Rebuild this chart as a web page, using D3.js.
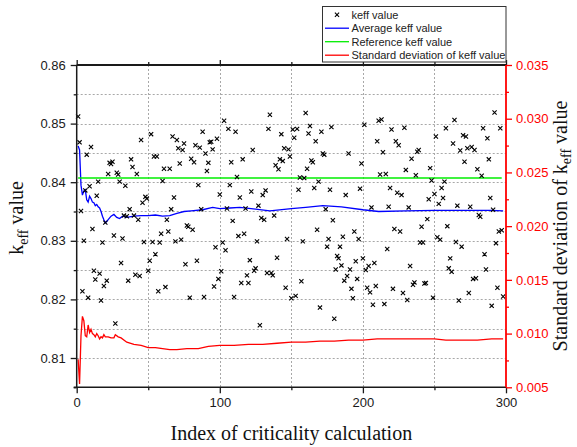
<!DOCTYPE html>
<html>
<head>
<meta charset="utf-8">
<script src="https://cdn.jsdelivr.net/npm/d3@7/dist/d3.min.js"></script>
<style>
  html, body { margin: 0; padding: 0; background: #fff; }
  svg { display: block; }
  .tick text { font-family: "Liberation Sans", Arial, sans-serif; }
</style>
</head>
<body>
<svg id="chart" width="577" height="447"></svg>
<script>
// keff value of each criticality calculation (index 1, 2, 3, ...)
const keffValues = [
  0.8512, 0.8468, 0.8351, 0.8214, 0.8300, 0.8386, 0.8447, 0.8203, 0.8393, 0.8460,
  0.8320, 0.8249, 0.8234, 0.8377, 0.8401, 0.8244, 0.8198, 0.8297, 0.8223, 0.8331,
  0.8232, 0.8414, 0.8433, 0.8431, 0.8435, 0.8309, 0.8159, 0.8416, 0.8413, 0.8401,
  0.8262, 0.8304, 0.8343, 0.8394, 0.8342, 0.8232, 0.8354, 0.8439, 0.8426, 0.8343,
  0.8242, 0.8414, 0.8336, 0.8240, 0.8472, 0.8365, 0.8298, 0.8375, 0.8372, 0.8249,
  0.8266, 0.8482, 0.8298, 0.8444, 0.8277, 0.8444, 0.8214, 0.8297, 0.8312, 0.8402,
  0.8423, 0.8221, 0.8336, 0.8316, 0.8423, 0.8354, 0.8478, 0.8374, 0.8299, 0.8472,
  0.8458, 0.8432, 0.8302, 0.8455, 0.8466, 0.8260, 0.8326, 0.8324, 0.8203, 0.8440,
  0.8319, 0.8434, 0.8463, 0.8266, 0.8395, 0.8459, 0.8354, 0.8486, 0.8204, 0.8449,
  0.8419, 0.8433, 0.8468, 0.8469, 0.8456, 0.8222, 0.8289, 0.8474, 0.8235, 0.8379,
  0.8248, 0.8297, 0.8505, 0.8284, 0.8355, 0.8491, 0.8395, 0.8434, 0.8334, 0.8204,
  0.8486, 0.8409, 0.8308, 0.8374, 0.8228, 0.8439, 0.8312, 0.8355, 0.8241, 0.8228,
  0.8267, 0.8384, 0.8455, 0.8249, 0.8253, 0.8299, 0.8360, 0.8156, 0.8339, 0.8378,
  0.8336, 0.8386, 0.8245, 0.8491, 0.8515, 0.8245, 0.8241, 0.8343, 0.8429, 0.8271,
  0.8422, 0.8439, 0.8482, 0.8436, 0.8458, 0.8220, 0.8303, 0.8456, 0.8444, 0.8202,
  0.8490, 0.8476, 0.8206, 0.8491, 0.8387, 0.8408, 0.8231, 0.8299, 0.8407, 0.8518,
  0.8423, 0.8483, 0.8496, 0.8437, 0.8434, 0.8390, 0.8470, 0.8319, 0.8401, 0.8186,
  0.8486, 0.8449, 0.8447, 0.8354, 0.8290, 0.8303, 0.8387, 0.8494, 0.8335, 0.8167,
  0.8251, 0.8274, 0.8270, 0.8290, 0.8258, 0.8307, 0.8232, 0.8378, 0.8240, 0.8449,
  0.8251, 0.8218, 0.8202, 0.8316, 0.8265, 0.8235, 0.8303, 0.8389, 0.8432, 0.8270,
  0.8498, 0.8250, 0.8220, 0.8257, 0.8212, 0.8357, 0.8191, 0.8262, 0.8223, 0.8470,
  0.8505, 0.8413, 0.8507, 0.8451, 0.8192, 0.8414, 0.8286, 0.8358, 0.8390, 0.8490,
  0.8218, 0.8320, 0.8470, 0.8382, 0.8463, 0.8316, 0.8378, 0.8211, 0.8493, 0.8421,
  0.8199, 0.8357, 0.8257, 0.8440, 0.8225, 0.8229, 0.8412, 0.8452, 0.8455, 0.8297,
  0.8324, 0.8297, 0.8227, 0.8228, 0.8337, 0.8371, 0.8424, 0.8403, 0.8203, 0.8380,
  0.8478, 0.8306, 0.8363, 0.8302, 0.8390, 0.8373, 0.8401, 0.8492, 0.8325, 0.8253,
  0.8270, 0.8247, 0.8466, 0.8506, 0.8298, 0.8360, 0.8198, 0.8454, 0.8290, 0.8480,
  0.8435, 0.8478, 0.8458, 0.8211, 0.8358, 0.8460, 0.8235, 0.8455, 0.8236, 0.8422,
  0.8344, 0.8341, 0.8411, 0.8492, 0.8277, 0.8251, 0.8475, 0.8439, 0.8373, 0.8189,
  0.8353, 0.8519, 0.8296, 0.8220, 0.8316, 0.8492, 0.8318, 0.8205
];

// running average of keff
const avgIndex = [1, 2, 3, 4, 5, 6, 7, 8, 9, 10, 11, 12, 13, 14, 15, 16, 17, 18, 19, 20,
  21, 22, 24, 26, 28, 30, 32, 35, 40, 45, 50, 55, 60, 65, 70, 75, 80, 88, 95, 100,
  107, 114, 125, 135, 150, 160, 172, 185, 200, 211, 230, 250, 270, 290, 298];
const avgValue = [0.8462, 0.8455, 0.8395, 0.8378, 0.8385, 0.8387, 0.8370, 0.8366, 0.8376, 0.8372,
  0.8366, 0.8365, 0.8360, 0.8362, 0.8358, 0.8356, 0.8350, 0.8342, 0.8336, 0.8331,
  0.8333, 0.8336, 0.8342, 0.8345, 0.8340, 0.8338, 0.8342, 0.8340, 0.8342, 0.8343,
  0.8343, 0.8344, 0.8342, 0.8343, 0.8347, 0.8350, 0.8351, 0.8353, 0.8357, 0.8355,
  0.8356, 0.8357, 0.8354, 0.8351, 0.8355, 0.8357, 0.8360, 0.8358, 0.8353, 0.8350,
  0.8351, 0.8352, 0.8352, 0.8352, 0.8351];

// reference keff
const referenceKeff = 0.8407;

// running standard deviation of keff (right axis)
const stdIndex = [1, 2, 3, 4, 5, 6, 7, 8, 9, 10, 11, 12, 13, 14, 15, 16, 17, 18, 19, 20,
  22, 24, 26, 27, 29, 31, 35, 40, 45, 50, 55, 60, 65, 70, 77, 85, 92, 100, 110, 120,
  130, 140, 150, 160, 170, 180, 190, 200, 210, 220, 230, 240, 250, 258, 270, 280, 290, 298];
const stdValue = [0.0076, 0.0053, 0.0098, 0.0116, 0.0112, 0.0098, 0.0097, 0.0108, 0.0101, 0.0104,
  0.0100, 0.0099, 0.0097, 0.0100, 0.0098, 0.0095, 0.0097, 0.0096, 0.0099, 0.0097,
  0.0097, 0.0096, 0.0096, 0.0099, 0.0097, 0.0096, 0.0092, 0.0090, 0.0089, 0.0087,
  0.0087, 0.0086, 0.0085, 0.0085, 0.0086, 0.0086, 0.0088, 0.0089, 0.0089, 0.0090,
  0.0090, 0.0091, 0.0092, 0.0092, 0.0093, 0.0093, 0.0094, 0.0094, 0.0095, 0.0095,
  0.0095, 0.0095, 0.0095, 0.0094, 0.0094, 0.0094, 0.0095, 0.0095];

// axis ticks
const xTicks = [0, 100, 200, 300];
const xMinorTicks = [50, 150, 250];
const yLeftTicks = [0.81, 0.82, 0.83, 0.84, 0.85, 0.86];
const yLeftMinorTicks = [0.805, 0.815, 0.825, 0.835, 0.845, 0.855];
const yRightTicks = [0.005, 0.010, 0.015, 0.020, 0.025, 0.030, 0.035];
const yRightMinorTicks = [0.0075, 0.0125, 0.0175, 0.0225, 0.0275, 0.0325];

const legendLabels = ["keff value", "Average keff value", "Reference keff value", "Standard deviation of keff value"];
const colors = { point: "#000", avg: "#0000ff", ref: "#00ee00", std: "#ff0000" };

const svg = d3.select("#chart");
const L = 76.7, R = 506, T = 65, B = 387.3;

const x = d3.scaleLinear().domain([0, 300]).range([L, R]);
const yL = d3.scaleLinear().domain([0.805, 0.86]).range([B, T]);
const yR = d3.scaleLinear().domain([0.005, 0.035]).range([B, T]);

// dotted grid
const grid = svg.append("g").attr("stroke", "#a8a8a8").attr("stroke-width", 1).attr("stroke-dasharray", "2,2");
d3.range(0.81, 0.8575, 0.005).forEach(v => {
  grid.append("line").attr("x1", L).attr("x2", R).attr("y1", Math.round(yL(v)) + 0.5).attr("y2", Math.round(yL(v)) + 0.5);
});
[50, 100, 150, 200, 250].forEach(v => {
  grid.append("line").attr("y1", T).attr("y2", B).attr("x1", Math.round(x(v)) + 0.5).attr("x2", Math.round(x(v)) + 0.5);
});

// lines
const avgLine = d3.line().x((d, i) => x(avgIndex[i])).y(d => yL(d));
svg.append("path").attr("d", avgLine(avgValue)).attr("fill", "none").attr("stroke", colors.avg).attr("stroke-width", 1.3);

svg.append("line").attr("x1", x(1)).attr("x2", x(keffValues.length - 1))
  .attr("y1", yL(referenceKeff)).attr("y2", yL(referenceKeff))
  .attr("stroke", colors.ref).attr("stroke-width", 1.5);

const stdLine = d3.line().x((d, i) => x(stdIndex[i])).y(d => yR(d));
svg.append("path").attr("d", stdLine(stdValue)).attr("fill", "none").attr("stroke", colors.std).attr("stroke-width", 1.3);

// × markers
const cross = s => `M${-s},${-s}L${s},${s}M${-s},${s}L${s},${-s}`;
svg.append("g").selectAll("path").data(keffValues).join("path")
  .attr("transform", (d, i) => `translate(${x(i + 1)},${yL(d)})`)
  .attr("d", cross(2.1))
  .attr("stroke", colors.point).attr("stroke-width", 1.1).attr("fill", "none");

// axes
function styleAxis(g, color) {
  g.selectAll(".domain").remove();
  g.selectAll(".tick line").attr("stroke", color).attr("stroke-width", 1.3);
  g.selectAll(".tick text").attr("fill", color).attr("font-size", 13);
}

const fmt2 = d3.format(".2f"), fmt3 = d3.format(".3f");

const gLeft = svg.append("g").attr("transform", `translate(${L},0)`)
  .call(d3.axisLeft(yL).tickValues(yLeftTicks).tickFormat(fmt2).tickSize(6).tickPadding(5));
styleAxis(gLeft, "#1a1a1a");
const gLeftMinor = svg.append("g").attr("transform", `translate(${L},0)`)
  .call(d3.axisLeft(yL).tickValues(yLeftMinorTicks).tickFormat("").tickSize(3));
styleAxis(gLeftMinor, "#1a1a1a");

const gBottom = svg.append("g").attr("transform", `translate(0,${B})`)
  .call(d3.axisBottom(x).tickValues(xTicks).tickFormat(d3.format("d")).tickSize(6).tickPadding(4));
styleAxis(gBottom, "#1a1a1a");
const gBottomMinor = svg.append("g").attr("transform", `translate(0,${B})`)
  .call(d3.axisBottom(x).tickValues(xMinorTicks).tickFormat("").tickSize(3));
styleAxis(gBottomMinor, "#1a1a1a");

const gTop = svg.append("g").attr("transform", `translate(0,${T})`)
  .call(d3.axisTop(x).tickValues(xTicks).tickFormat("").tickSize(5));
styleAxis(gTop, "#1a1a1a");
const gTopMinor = svg.append("g").attr("transform", `translate(0,${T})`)
  .call(d3.axisTop(x).tickValues(xMinorTicks).tickFormat("").tickSize(3));
styleAxis(gTopMinor, "#1a1a1a");

const gRight = svg.append("g").attr("transform", `translate(${R},0)`)
  .call(d3.axisRight(yR).tickValues(yRightTicks).tickFormat(fmt3).tickSize(6).tickPadding(4));
styleAxis(gRight, "#ff0000");
const gRightMinor = svg.append("g").attr("transform", `translate(${R},0)`)
  .call(d3.axisRight(yR).tickValues(yRightMinorTicks).tickFormat("").tickSize(3));
styleAxis(gRightMinor, "#ff0000");

// frame
svg.append("line").attr("x1", L).attr("x2", R).attr("y1", T).attr("y2", T).attr("stroke", "#1a1a1a").attr("stroke-width", 1.8);
svg.append("line").attr("x1", L - 3).attr("x2", R).attr("y1", B).attr("y2", B).attr("stroke", "#1a1a1a").attr("stroke-width", 1.5);
svg.append("line").attr("x1", L).attr("x2", L).attr("y1", T).attr("y2", B).attr("stroke", "#1a1a1a").attr("stroke-width", 1.5);
svg.append("line").attr("x1", R).attr("x2", R).attr("y1", T).attr("y2", B).attr("stroke", "#ff0000").attr("stroke-width", 1.8);

// axis titles
const serif = "'Liberation Serif', 'Times New Roman', serif";
svg.append("text").attr("x", (L + R) / 2).attr("y", 440).attr("text-anchor", "middle")
  .attr("font-family", serif).attr("font-size", 20).attr("fill", "#111")
  .text("Index of criticality calculation");

function keffTitle(sel, pre, sub) {
  sel.append("tspan").text(pre + "k");
  sel.append("tspan").attr("font-size", 14).attr("dy", sub).text("eff");
  sel.append("tspan").attr("dy", -sub).text(" value");
}
const tl = svg.append("text").attr("transform", "translate(23,218) rotate(-90)").attr("text-anchor", "middle")
  .attr("font-family", serif).attr("font-size", 20).attr("fill", "#111");
keffTitle(tl, "", 5);
const tr = svg.append("text").attr("transform", "translate(567,226) rotate(-90)").attr("text-anchor", "middle")
  .attr("font-family", serif).attr("font-size", 20).attr("fill", "#111");
keffTitle(tr, "Standard deviation of ", 4);

// legend
const lg = svg.append("g");
lg.append("rect").attr("x", 322.5).attr("y", 6.5).attr("width", 183.5).attr("height", 55.5)
  .attr("fill", "#fff").attr("stroke", "#333").attr("stroke-width", 1);
const rowY = [14.7, 28.2, 41.7, 55.2];
legendLabels.forEach((lab, i) => {
  const yy = rowY[i];
  if (i === 0) {
    lg.append("path").attr("transform", `translate(337,${yy})`).attr("d", cross(2.1))
      .attr("stroke", "#000").attr("stroke-width", 1.1);
  } else {
    const c = [null, colors.avg, colors.ref, colors.std][i];
    lg.append("line").attr("x1", 325).attr("x2", 349).attr("y1", yy).attr("y2", yy)
      .attr("stroke", c).attr("stroke-width", 1.3);
  }
  lg.append("text").attr("x", 351.5).attr("y", yy + 4).attr("font-family", "'Liberation Sans', Arial, sans-serif")
    .attr("font-size", 11).attr("fill", "#222").text(lab);
});
</script>
</body>
</html>
